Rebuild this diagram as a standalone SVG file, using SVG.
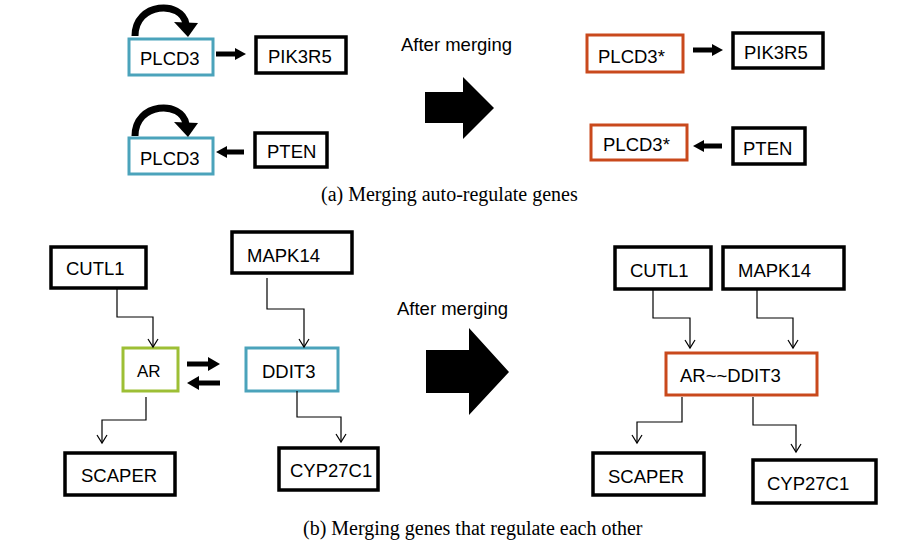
<svg xmlns="http://www.w3.org/2000/svg" width="920" height="557" viewBox="0 0 920 557">
<defs>
<style>
.box{fill:#fff;stroke:#000;stroke-width:3.5}
.teal{fill:#fff;stroke:#4BA3BB;stroke-width:3}
.green{fill:#fff;stroke:#9DBF35;stroke-width:3}
.orange{fill:#fff;stroke:#C9491C;stroke-width:3}
.lbl{font-family:"Liberation Sans",Arial,sans-serif;font-size:18.5px;fill:#000}
.cap{font-family:"Liberation Serif","Times New Roman",serif;font-size:20px;fill:#000}
.thin{fill:none;stroke:#000;stroke-width:1.2}
.thick{fill:none;stroke:#000;stroke-width:5}
.loop{fill:none;stroke:#000;stroke-width:7}
</style>
<marker id="v" markerWidth="12" markerHeight="12" refX="10" refY="6" orient="auto" markerUnits="userSpaceOnUse" viewBox="0 0 12 12">
<path d="M2 1 L10 6 L2 11" fill="none" stroke="#000" stroke-width="1.2"/>
</marker>
</defs>
<rect width="920" height="557" fill="#fff"/>

<g id="n-plcd3-a1"><rect class="teal" x="129" y="39" width="84" height="36"/><text class="lbl" x="140" y="65">PLCD3</text></g>
<g id="n-pik3r5-a1"><rect class="box" x="256" y="37" width="90" height="36"/><text class="lbl" x="268" y="63">PIK3R5</text></g>
<g id="n-plcd3-a2"><rect class="teal" x="129" y="138" width="84" height="36"/><text class="lbl" x="140" y="165">PLCD3</text></g>
<g id="n-pten-a2"><rect class="box" x="255" y="133" width="72" height="34"/><text class="lbl" x="267" y="158">PTEN</text></g>
<g id="n-plcd3s-a1"><rect class="orange" x="587" y="35" width="96" height="37"/><text class="lbl" x="598" y="63">PLCD3*</text></g>
<g id="n-pik3r5-a3"><rect class="box" x="733" y="33" width="90" height="35"/><text class="lbl" x="744" y="59">PIK3R5</text></g>
<g id="n-plcd3s-a2"><rect class="orange" x="591" y="125" width="96" height="35"/><text class="lbl" x="603" y="151">PLCD3*</text></g>
<g id="n-pten-a4"><rect class="box" x="733" y="128" width="72" height="36"/><text class="lbl" x="743" y="155">PTEN</text></g>

<g id="n-arrow-a"><polygon points="425,92 463,92 463,77 494,108 463,139 463,123 425,123" fill="#000"/></g>
<g id="t-after-a"><text class="lbl" x="401" y="51">After merging</text></g>
<g id="t-cap-a"><text class="cap" x="321" y="201">(a) Merging auto-regulate genes</text></g>

<g id="n-cutl1-b1"><rect class="box" x="51" y="247" width="95" height="41"/><text class="lbl" x="66" y="275">CUTL1</text></g>
<g id="n-mapk14-b1"><rect class="box" x="232" y="232" width="120" height="41"/><text class="lbl" x="247" y="262">MAPK14</text></g>
<g id="n-ar"><rect class="green" x="123" y="348" width="55" height="43"/><text class="lbl" x="137" y="377" style="font-size:17px">AR</text></g>
<g id="n-ddit3"><rect class="teal" x="246" y="348" width="92" height="43"/><text class="lbl" x="262" y="378">DDIT3</text></g>
<g id="n-scaper-b1"><rect class="box" x="65" y="453" width="110" height="42"/><text class="lbl" x="81" y="482">SCAPER</text></g>
<g id="n-cyp-b1"><rect class="box" x="279" y="448" width="99" height="42"/><text class="lbl" x="290" y="477">CYP27C1</text></g>

<g id="n-arrow-b"><polygon points="426,350 469,350 469,328 509,372 469,415 469,393 426,393" fill="#000"/></g>
<g id="t-after-b"><text class="lbl" x="397" y="315">After merging</text></g>

<g id="n-cutl1-b2"><rect class="box" x="615" y="247" width="96" height="42"/><text class="lbl" x="630" y="277">CUTL1</text></g>
<g id="n-mapk14-b2"><rect class="box" x="723" y="247" width="121" height="42"/><text class="lbl" x="738" y="277">MAPK14</text></g>
<g id="n-merged"><rect class="orange" x="666" y="353" width="151" height="42"/><text class="lbl" x="680" y="382">AR~~DDIT3</text></g>
<g id="n-scaper-b2"><rect class="box" x="593" y="453" width="111" height="42"/><text class="lbl" x="608" y="483">SCAPER</text></g>
<g id="n-cyp-b2"><rect class="box" x="753" y="460" width="123" height="43"/><text class="lbl" x="767" y="490">CYP27C1</text></g>
<g id="t-cap-b"><text class="cap" x="303" y="535">(b) Merging genes that regulate each other</text></g>

<g id="connectors">
<path class="loop" d="M135 36 C135 2, 182 0, 186 24"/>
<polygon points="174,22 198,23 188,37" fill="#000"/>
<path class="loop" d="M135 136 C135 102, 182 100, 186 124"/>
<polygon points="174,122 198,123 188,137" fill="#000"/>
<line class="thick" x1="216" y1="54" x2="236" y2="54"/><polygon points="235,48 246,54 235,60" fill="#000"/>
<line class="thick" x1="244" y1="152" x2="226" y2="152"/><polygon points="227,146 216,152 227,158" fill="#000"/>
<line class="thick" x1="693" y1="50" x2="713" y2="50"/><polygon points="712,44 723,50 712,56" fill="#000"/>
<line class="thick" x1="722" y1="146" x2="703" y2="146"/><polygon points="704,140 693,146 704,152" fill="#000"/>
<line class="thick" x1="187" y1="364" x2="209" y2="364"/><polygon points="208,357 220,364 208,371" fill="#000"/>
<line class="thick" x1="220" y1="383" x2="198" y2="383"/><polygon points="199,376 187,383 199,390" fill="#000"/>

<path class="thin" d="M117 288 V317 H153 V347" marker-end="url(#v)"/>
<path class="thin" d="M267 278 V309 H304 V347" marker-end="url(#v)"/>
<path class="thin" d="M146 397 V420 H102 V443" marker-end="url(#v)"/>
<path class="thin" d="M297 391 V417 H341 V442" marker-end="url(#v)"/>
<path class="thin" d="M653 289 V318 H690 V348" marker-end="url(#v)"/>
<path class="thin" d="M757 289 V318 H793 V348" marker-end="url(#v)"/>
<path class="thin" d="M682 397 V422 H637 V443" marker-end="url(#v)"/>
<path class="thin" d="M753 397 V425 H796 V452" marker-end="url(#v)"/>
</g>
</svg>
